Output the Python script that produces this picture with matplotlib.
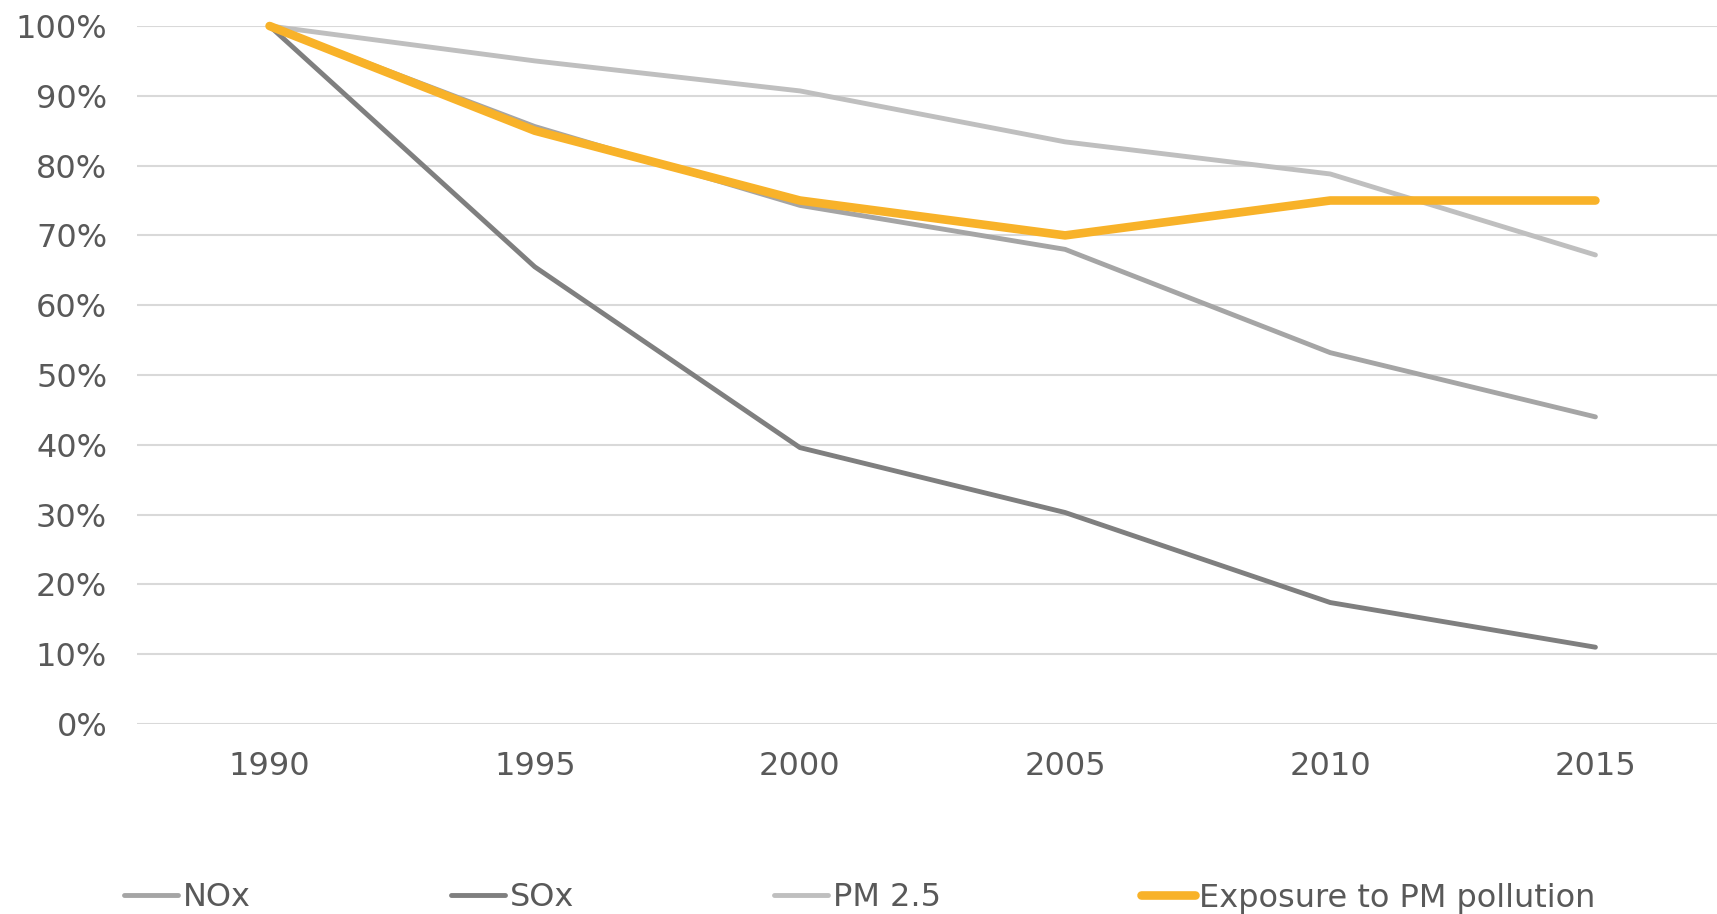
import matplotlib
matplotlib.use("Agg")
import matplotlib.pyplot as plt
from matplotlib.ticker import FuncFormatter, MultipleLocator

years = ["1990", "1995", "2000", "2005", "2010", "2015"]
nox = [1.00, 0.856, 0.743, 0.680, 0.532, 0.440]
sox = [1.00, 0.655, 0.396, 0.303, 0.174, 0.110]
pm25 = [1.00, 0.950, 0.907, 0.834, 0.788, 0.672]
exposure = [1.00, 0.85, 0.75, 0.70, 0.75, 0.75]

series = [
    ("NOx", nox, "#A5A5A5", 3.5),
    ("SOx", sox, "#7F7F7F", 3.5),
    ("PM 2.5", pm25, "#BFBFBF", 3.5),
    ("Exposure to PM pollution", exposure, "#F8B229", 6.2),
]

text_color = "#595959"
fs = 23

fig = plt.figure(figsize=(17.17, 9.14), dpi=100)
ax = fig.add_axes([137 / 1717, 1 - 724 / 914, 1591 / 1717, (724 - 26) / 914])

x = list(range(len(years)))
for name, vals, color, lw in series:
    ax.plot(x, vals, color=color, lw=lw, label=name, solid_capstyle="round",
            solid_joinstyle="round", clip_on=False, zorder=3)

ax.set_xlim(-0.5, len(years) - 0.5)
ax.set_ylim(0, 1)
ax.yaxis.set_major_locator(MultipleLocator(0.1))
ax.yaxis.set_major_formatter(FuncFormatter(lambda v, p: f"{v*100:.0f}%"))
ax.set_xticks(x)
ax.set_xticklabels(years)
ax.grid(axis="y", color="#D9D9D9", lw=1.5, zorder=0)
ax.set_axisbelow(True)
for s in ax.spines.values():
    s.set_visible(False)
ax.tick_params(axis="both", length=0, labelsize=fs, labelcolor=text_color)
ax.tick_params(axis="y", pad=21.5)
ax.tick_params(axis="x", pad=19.6)

fig.legend(loc="center left", bbox_to_anchor=(124 / 1717, 1 - 898 / 914), ncol=4,
           frameon=False, fontsize=fs, labelcolor=text_color, handlelength=1.69,
           handletextpad=0.15, columnspacing=6.26, borderaxespad=0, borderpad=0)

fig.savefig("out.png", dpi=100)
